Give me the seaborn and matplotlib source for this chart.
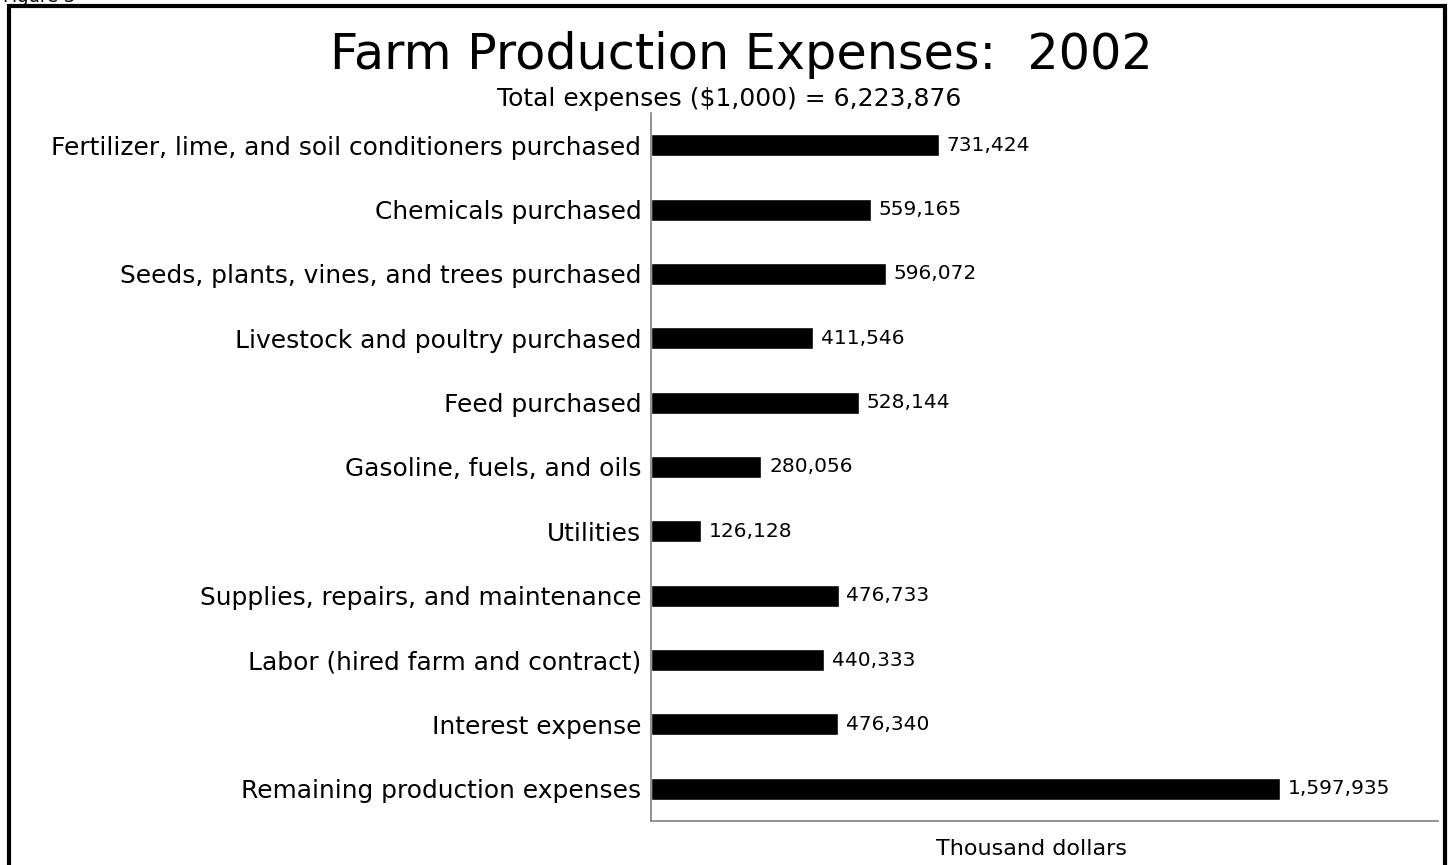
import numpy as np
import pandas as pd
import matplotlib
matplotlib.use("Agg")
import matplotlib.pyplot as plt
from matplotlib.patches import Rectangle
import seaborn as sns

categories = [
    "Fertilizer, lime, and soil conditioners purchased",
    "Chemicals purchased",
    "Seeds, plants, vines, and trees purchased",
    "Livestock and poultry purchased",
    "Feed purchased",
    "Gasoline, fuels, and oils",
    "Utilities",
    "Supplies, repairs, and maintenance",
    "Labor (hired farm and contract)",
    "Interest expense",
    "Remaining production expenses",
]
expenses = [731424, 559165, 596072, 411546, 528144, 280056,
            126128, 476733, 440333, 476340, 1597935]
title = "Farm Production Expenses:  2002"
subtitle = "Total expenses ($1,000) = 6,223,876"
xlabel = "Thousand dollars"

data = pd.DataFrame({"category": categories, "expense": expenses})

sns.set_style("white")
plt.rcParams["font.family"] = ["DejaVu Sans"]
plt.rcParams["text.color"] = "black"
plt.rcParams["ytick.color"] = "black"

fig = plt.figure(figsize=(14.5, 8.65), dpi=100)
ax = fig.add_axes([0.449, 0.051, 0.5427, 0.8183])

sns.barplot(data=data, x="expense", y="category", color="black",
            width=0.34, saturation=1, ax=ax, orient="h")
ax.set_xlim(0, 2000000)
ax.set_ylim(10.5, -0.5)

for i, v in enumerate(expenses):
    ax.text(v + 20000, i, f"{v:,}", va="center", ha="left", fontsize=14.5)

ax.set_xticks([])
ax.set_ylabel("")
ax.set_xlabel("")
ax.tick_params(axis="y", length=0, pad=7, labelsize=17.9, labelcolor="black")
ax.set_yticks(np.arange(-0.5, 11, 1), minor=True)
ax.tick_params(axis="y", which="minor", length=2, direction="in", color="black", width=1)

for side in ["top", "right"]:
    ax.spines[side].set_visible(False)
for side in ["left", "bottom"]:
    ax.spines[side].set_color("#808080")
    ax.spines[side].set_linewidth(1.2)

fig.text(0.5114, 0.936, title, ha="center", va="center", fontsize=35.5)
fig.text(0.503, 0.885, subtitle, ha="center", va="center", fontsize=18)
fig.text(0.7117, 0.019, xlabel, ha="center", va="center", fontsize=16)
fig.text(0.002, 1.003, "Figure 3", ha="left", va="center", fontsize=13)

fig.add_artist(Rectangle((0.0062, -0.05), 0.9903, 1.043, transform=fig.transFigure,
                         fill=False, edgecolor="black", linewidth=3))

fig.savefig("out.png", dpi=100)
